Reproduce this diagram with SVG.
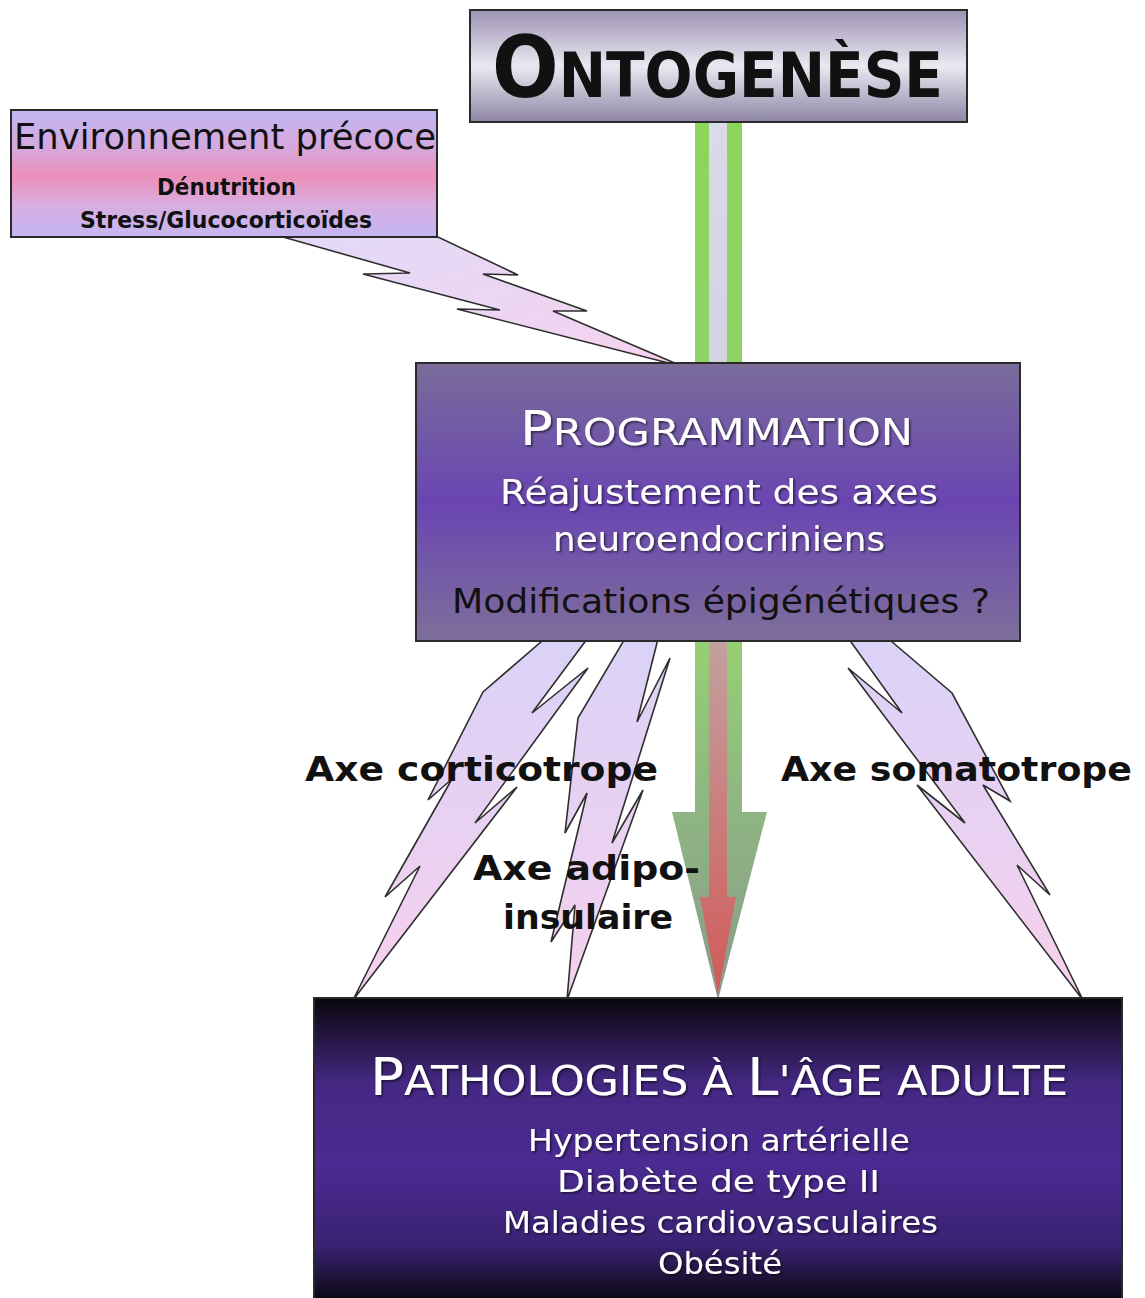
<svg xmlns="http://www.w3.org/2000/svg" width="1145" height="1298" viewBox="0 0 1145 1298">
<style>
.box{stroke:#2a2a2a;stroke-width:2}
.bolt{stroke:#2e2e2e;stroke-width:1.6;stroke-linejoin:miter}
.t{font-family:"DejaVu Sans","Liberation Sans",sans-serif}
.blk{fill:#111}
.wht{fill:#fff}
.lbl{font-family:"DejaVu Sans","Liberation Sans",sans-serif;font-weight:bold;fill:#111;font-size:33px}
</style>
<defs>
<linearGradient id="gOnto" x1="0" y1="0" x2="0" y2="1">
<stop offset="0" stop-color="#9c92b4"/>
<stop offset="0.5" stop-color="#ebe8f1"/>
<stop offset="1" stop-color="#8e86a6"/>
</linearGradient>
<linearGradient id="gEnv" x1="0" y1="0" x2="0" y2="1">
<stop offset="0" stop-color="#c2b6f2"/>
<stop offset="0.3" stop-color="#d6a8dc"/>
<stop offset="0.52" stop-color="#ea8fb8"/>
<stop offset="0.75" stop-color="#d8aee0"/>
<stop offset="1" stop-color="#c4b6f2"/>
</linearGradient>
<linearGradient id="gProg" x1="0" y1="0" x2="0" y2="1">
<stop offset="0" stop-color="#7a6c9a"/>
<stop offset="0.5" stop-color="#6a45b2"/>
<stop offset="1" stop-color="#7e6f9a"/>
</linearGradient>
<linearGradient id="gPath" x1="0" y1="0" x2="0" y2="1">
<stop offset="0" stop-color="#08070c"/>
<stop offset="0.1" stop-color="#1e1236"/>
<stop offset="0.28" stop-color="#442882"/>
<stop offset="0.55" stop-color="#4c2a92"/>
<stop offset="0.82" stop-color="#3a2272"/>
<stop offset="1" stop-color="#0a0812"/>
</linearGradient>
<linearGradient id="gBoltEnv" x1="0" y1="0" x2="1" y2="1">
<stop offset="0" stop-color="#e2daf8"/>
<stop offset="1" stop-color="#f6d2ee"/>
</linearGradient>
<linearGradient id="gBolt" x1="0" y1="0" x2="0" y2="1">
<stop offset="0" stop-color="#dad2f8"/>
<stop offset="1" stop-color="#f6d0ec"/>
</linearGradient>
<linearGradient id="gGreen" gradientUnits="userSpaceOnUse" x1="0" y1="122" x2="0" y2="1000">
<stop offset="0" stop-color="#8cd65c"/>
<stop offset="0.6" stop-color="#96ce74"/>
<stop offset="0.78" stop-color="#8eb682"/>
<stop offset="1" stop-color="#8a9a8c"/>
</linearGradient>
<linearGradient id="gInner" gradientUnits="userSpaceOnUse" x1="0" y1="122" x2="0" y2="995">
<stop offset="0" stop-color="#dadaea"/>
<stop offset="0.28" stop-color="#d2d2e2"/>
<stop offset="0.6" stop-color="#c2a09e"/>
<stop offset="1" stop-color="#d25a5a"/>
</linearGradient>
<filter id="sh" x="-5%" y="-20%" width="110%" height="140%">
<feDropShadow dx="1.5" dy="1.5" stdDeviation="1" flood-color="#000" flood-opacity="0.6"/>
</filter>
</defs>
<rect width="1145" height="1298" fill="#fff"/>

<g id="connectors">
<g id="main-arrow">
<polygon points="695,122 742,122 742,812 767,812 718,1000 672,812 695,812" fill="url(#gGreen)"/>
<polygon points="709,122 727,122 727,897 736,897 718,994 700,897 709,897" fill="url(#gInner)"/>
</g>
<polygon id="bolt-env" class="bolt" fill="url(#gBoltEnv)" points="283,237 438,237 518,275 483,274 587,311 553,311 684,367 457,309 500,310 363,274 410,273"/>
<polygon id="bolt-corticotrope" class="bolt" fill="url(#gBolt)" points="549,635 590,635 532,713 588,668 475,823 517,787 353,1000 420,866 385,897 452,779 428,800 483,692"/>
<polygon id="bolt-adipo" class="bolt" fill="url(#gBolt)" points="627,635 659,635 637,722 670,658 612,843 643,790 567,1000 575,905 551,942 587,793 565,833 578,718"/>
<polygon id="bolt-somatotrope" class="bolt" fill="url(#gBolt)" points="846,635 884,635 952,693 1010,801 983,785 1050,895 1017,865 1083,1000 917,785 965,823 848,668 902,713"/>
</g>

<g id="node-ontogenese">
<rect class="box" x="470" y="10" width="497" height="112" fill="url(#gOnto)"/>
<text class="t blk" x="492" y="97" font-weight="bold" textLength="451" lengthAdjust="spacingAndGlyphs"><tspan font-size="86">O</tspan><tspan font-size="62">NTOGENÈSE</tspan></text>
</g>

<g id="node-environnement">
<rect class="box" x="11" y="110" width="426" height="127" fill="url(#gEnv)"/>
<text class="t blk" x="14" y="149" font-size="35" textLength="422" lengthAdjust="spacingAndGlyphs">Environnement précoce</text>
<text class="t blk" x="157" y="195" font-size="23" font-weight="bold" textLength="139" lengthAdjust="spacingAndGlyphs">Dénutrition</text>
<text class="t blk" x="80" y="228" font-size="23" font-weight="bold" textLength="292" lengthAdjust="spacingAndGlyphs">Stress/Glucocorticoïdes</text>
</g>

<g id="node-programmation">
<rect class="box" x="416" y="363" width="604" height="278" fill="url(#gProg)"/>
<g filter="url(#sh)">
<text class="t wht" x="520" y="445" textLength="393" lengthAdjust="spacingAndGlyphs"><tspan font-size="48">P</tspan><tspan font-size="38">ROGRAMMATION</tspan></text>
<text class="t wht" x="500" y="504" font-size="34" textLength="438" lengthAdjust="spacingAndGlyphs">Réajustement des axes</text>
<text class="t wht" x="553" y="551" font-size="34" textLength="332" lengthAdjust="spacingAndGlyphs">neuroendocriniens</text>
</g>
<text class="t blk" x="452" y="613" font-size="34" textLength="538" lengthAdjust="spacingAndGlyphs">Modifications épigénétiques ?</text>
</g>

<g id="node-pathologies">
<rect class="box" x="314" y="998" width="808" height="302" fill="url(#gPath)"/>
<g filter="url(#sh)">
<text class="t wht" x="370" y="1095" textLength="698" lengthAdjust="spacingAndGlyphs"><tspan font-size="52">P</tspan><tspan font-size="41">ATHOLOGIES À </tspan><tspan font-size="52">L</tspan><tspan font-size="41">'ÂGE ADULTE</tspan></text>
<text class="t wht" x="528" y="1151" font-size="30" textLength="382" lengthAdjust="spacingAndGlyphs">Hypertension artérielle</text>
<text class="t wht" x="557" y="1192" font-size="30" textLength="323" lengthAdjust="spacingAndGlyphs">Diabète de type II</text>
<text class="t wht" x="503" y="1233" font-size="30" textLength="435" lengthAdjust="spacingAndGlyphs">Maladies cardiovasculaires</text>
<text class="t wht" x="658" y="1274" font-size="30" textLength="124" lengthAdjust="spacingAndGlyphs">Obésité</text>
</g>
</g>

<g id="connector-labels">
<text class="lbl" x="305" y="781" textLength="353" lengthAdjust="spacingAndGlyphs">Axe corticotrope</text>
<text class="lbl" x="781" y="781" textLength="351" lengthAdjust="spacingAndGlyphs">Axe somatotrope</text>
<text class="lbl" x="473" y="880" textLength="227" lengthAdjust="spacingAndGlyphs">Axe adipo-</text>
<text class="lbl" x="503" y="929" textLength="170" lengthAdjust="spacingAndGlyphs">insulaire</text>
</g>
</svg>
